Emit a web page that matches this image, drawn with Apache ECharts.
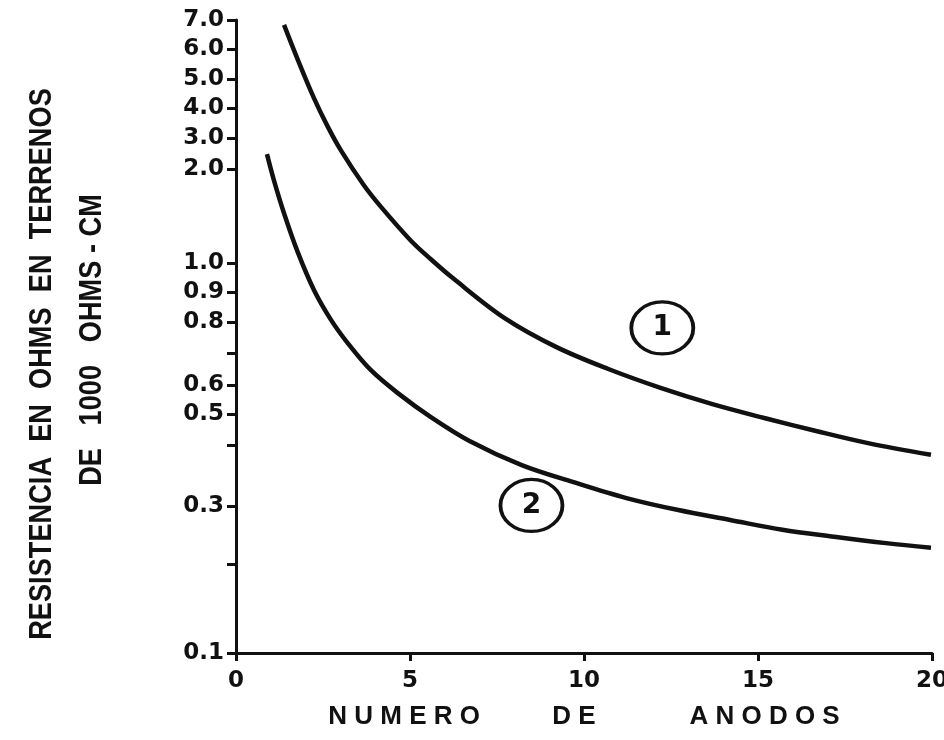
<!DOCTYPE html>
<html><head><meta charset="utf-8">
<script src="https://cdn.jsdelivr.net/npm/echarts@6/dist/echarts.min.js"></script>
<style>html,body{margin:0;padding:0;background:#fff}#c{width:944px;height:740px}</style>
</head><body><div id="c"></div>
<script>
// ---- data ----
const anodes1 = [1.38,1.78,2.24,2.64,3.01,3.67,4.16,5.02,5.60,6.23,7.72,9.21,10.70,12.20,13.69,15.18,16.67,18.16,19.97];
const resist1 = [6.83,5.63,4.34,3.37,2.61,1.83,1.60,1.24,1.04,0.948,0.813,0.719,0.650,0.590,0.534,0.487,0.445,0.406,0.384];
const anodes2 = [0.89,1.09,1.38,1.78,2.24,2.73,3.21,3.87,4.65,5.60,6.71,8.21,9.70,11.22,12.71,14.20,15.70,17.19,18.68,19.97];
const resist2 = [2.48,1.88,1.53,1.11,0.907,0.807,0.732,0.647,0.572,0.490,0.413,0.367,0.339,0.313,0.293,0.276,0.259,0.247,0.236,0.228];
const xTicks = [0,5,10,15,20];
// y axis: hand-drawn non-uniform scale (tick values, their labels, and their place along the axis 0..1)
const yTickValues = [0.1,0.2,0.3,0.4,0.5,0.6,0.7,0.8,0.9,1.0,2.0,3.0,4.0,5.0,6.0,7.0];
const yTickLabels = ['0.1','','0.3','','0.5','0.6','','0.8','0.9','1.0','2.0','3.0','4.0','5.0','6.0','7.0'];
const yScaleAt   = [0,0.1406,0.2322,0.3286,0.3776,0.4234,0.4739,0.5229,0.5703,0.6161,0.7646,0.8136,0.8610,0.9068,0.9542,1];
const curveNames = ['1','2'];
const curveTags = [{name:'1', x:12.25, y:0.781},{name:'2', x:8.49, y:0.301}];
const xTitle = 'N U M E R O          D E             A N O D O S';
const yTitle = ['RESISTENCIA  EN  OHMS  EN  TERRENOS','DE   1000   OHMS - CM'];

// piecewise scale for the y axis
function yScale(v){
  for(let i=0;i<yTickValues.length-1;i++){
    const a=yTickValues[i], b=yTickValues[i+1];
    if(v>=a && v<=b){ return yScaleAt[i]+(v-a)/(b-a)*(yScaleAt[i+1]-yScaleAt[i]); }
  }
  return v<yTickValues[0]?0:1;
}
const labeledPos = yScaleAt.filter((p,i)=>yTickLabels[i]!=='');
function yLabel(p){
  const i = yScaleAt.findIndex(q=>Math.abs(q-p)<1e-6);
  return i>=0 ? yTickLabels[i] : '';
}

const chart = echarts.init(document.getElementById('c'), null, {renderer:'canvas'});
const black = '#111';
const mk = (xs, ys) => xs.map((x,i)=>[x, yScale(ys[i])]);
const tagPoint = t => ({
  symbol:'circle', symbolSize:[62,52],
  itemStyle:{color:'rgba(255,255,255,0)', borderColor:black, borderWidth:3.5},
  label:{show:true, position:'inside', color:black, fontFamily:'DejaVu Sans', fontWeight:'bold', fontSize:28, formatter:p=>p.name},
  data:[{name:t.name, coord:[t.x, yScale(t.y)]}]
});
chart.setOption({
  backgroundColor:'#ffffff',
  animation:false,
  grid:{left:236, right:12, top:20, bottom:87, containLabel:false, outerBoundsMode:'none'},
  xAxis:{
    type:'value', min:0, max:20, interval:5,
    axisLine:{show:true, onZero:false, lineStyle:{color:black, width:3}},
    axisTick:{show:true, length:8, lineStyle:{color:black, width:3}},
    axisLabel:{margin:17, color:black, fontFamily:'DejaVu Sans', fontWeight:'bold', fontSize:23,
      formatter:v=>xTicks.includes(v)?String(v):''},
    splitLine:{show:false},
    name:xTitle, nameLocation:'middle', nameGap:51,
    nameTextStyle:{color:black, fontFamily:'Liberation Sans', fontWeight:'bold', fontSize:26}
  },
  yAxis:{
    type:'value', min:0, max:1,
    axisLine:{show:true, onZero:false, lineStyle:{color:black, width:3}},
    axisTick:{show:true, length:9, customValues:yScaleAt, lineStyle:{color:black, width:3}},
    axisLabel:{margin:12, color:black, fontFamily:'DejaVu Sans', fontWeight:'bold', fontSize:23,
      customValues:labeledPos, formatter:yLabel},
    splitLine:{show:false}
  },
  graphic:[
    {type:'text', x:42, y:364, rotation:Math.PI/2, scaleX:0.85,
      style:{text:yTitle[0], fill:black, font:'bold 32px "Liberation Sans", Arial, sans-serif', align:'center', verticalAlign:'middle'}},
    {type:'text', x:92, y:340, rotation:Math.PI/2, scaleX:0.85,
      style:{text:yTitle[1], fill:black, font:'bold 32px "Liberation Sans", Arial, sans-serif', align:'center', verticalAlign:'middle'}}
  ],
  series:[
    {name:curveNames[0], type:'line', data:mk(anodes1,resist1), smooth:0.35, symbol:'none',
      lineStyle:{color:black, width:4.5}, markPoint:tagPoint(curveTags[0])},
    {name:curveNames[1], type:'line', data:mk(anodes2,resist2), smooth:0.35, symbol:'none',
      lineStyle:{color:black, width:4.5}, markPoint:tagPoint(curveTags[1])}
  ]
});
</script></body></html>
